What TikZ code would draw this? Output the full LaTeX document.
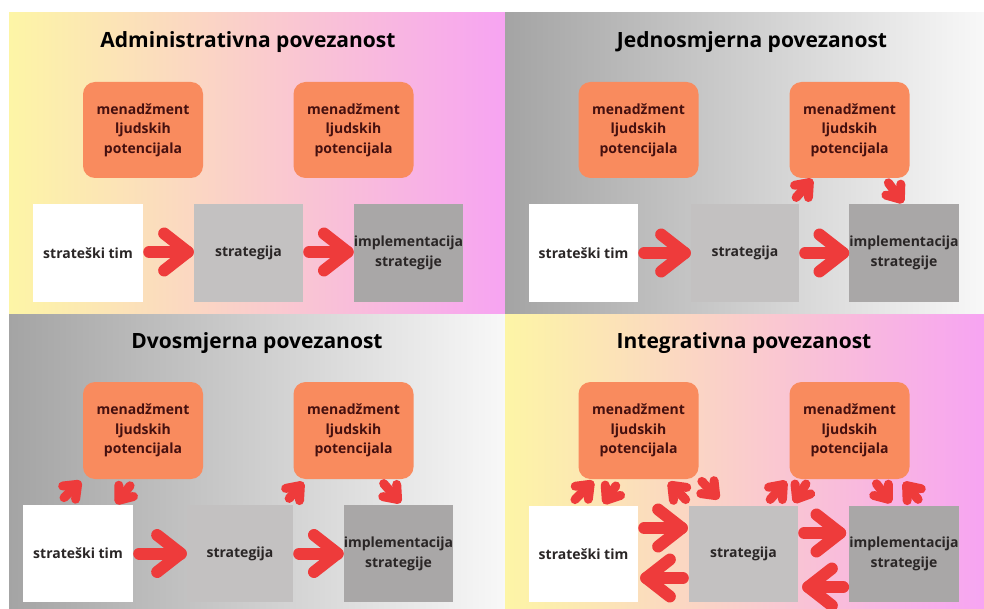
\documentclass[tikz,border=0pt]{standalone}
\usepackage{fontspec}
\setmainfont{Open Sans}
\usetikzlibrary{calc}
\definecolor{rd}{HTML}{EE3B3B}
\definecolor{orng}{HTML}{F98B5E}
\definecolor{maroon}{HTML}{45100F}
\definecolor{dark}{HTML}{2A2626}
\definecolor{stratg}{HTML}{C3C1C1}
\definecolor{implg}{HTML}{A9A7A7}
\definecolor{yel}{HTML}{FDF5A6}
\definecolor{peach}{HTML}{FBD6CB}
\definecolor{pnk}{HTML}{F7A4F2}
\definecolor{gryL}{HTML}{A4A4A4}
\definecolor{gryR}{HTML}{F8F8F8}
\tikzset{
  titletext/.style={font=\fontsize{21}{25}\selectfont\bfseries, text=black, inner sep=0pt},
  hrmbox/.style={fill=orng, rounded corners=12pt, minimum width=120pt, minimum height=96pt, inner sep=0pt, align=center, font=\fontsize{14}{19.5}\selectfont\bfseries, text=maroon},
  sqbox/.style={minimum width=109pt, minimum height=98pt, inner sep=0pt, align=center, font=\fontsize{14}{20}\selectfont\bfseries, text=dark},
  teambox/.style={sqbox, fill=white},
  stratbox/.style={sqbox, fill=stratg},
  implbox/.style={sqbox, fill=implg},
  redline/.style={draw=rd, line cap=round, line join=round}
}
\newcommand\redarr[5]{%
  \path (#1) coordinate (ra) (#2) coordinate (rb);
  \coordinate (rv) at ($(rb)!#4!(ra)$);
  \coordinate (rt) at ($(ra)!#4!(rb)$);
  \draw[redline, line width=#3] (rt) -- (rv);
  \draw[redline, line width=#3] ($(rv)!#5!38:(rt)$) -- (rv) -- ($(rv)!#5!-38:(rt)$);
}
\newcommand\bigarr[2]{\redarr{#1}{#2}{12pt}{6pt}{30pt}}
\newcommand\smallarr[2]{\redarr{#1}{#2}{9pt}{4.5pt}{15pt}}
\newcommand\hrmtext{menadžment\\ljudskih\\potencijala}
\begin{document}
\begin{tikzpicture}[x=1pt,y=-1pt]
\useasboundingbox (0,0) rectangle (984,609);
\fill[white] (0,0) rectangle (984,609);
% panel backgrounds
\shade[left color=yel, middle color=peach, right color=pnk] (9,13) rectangle (505,314);
\shade[left color=gryL, right color=gryR] (505,13) rectangle (984,314);
\shade[left color=gryL, right color=gryR] (9,314) rectangle (505,609);
\shade[left color=yel, middle color=peach, right color=pnk] (505,314) rectangle (984,609);

% ---------- Panel 1 ----------
\node[titletext] (t1) at (248,42) {Administrativna povezanost};
\node[hrmbox] (o11) at (143,130) {\hrmtext};
\node[hrmbox] (o12) at (353.5,130) {\hrmtext};
\node[teambox, minimum width=110pt] (w1) at (88,253) {strateški tim};
\node[stratbox] (s1) at (248.5,253) {strategija};
\node[implbox] (i1) at (408.5,253) {implementacija\\strategije};
\bigarr{$(w1.east)+(0,-1)$}{$(s1.west)+(0,-1)$}
\bigarr{$(s1.east)+(0,-1)$}{$(i1.west)+(0,-1)$}

% ---------- Panel 2 ----------
\node[titletext] (t2) at (752,42) {Jednosmjerna povezanost};
\node[hrmbox] (o21) at (638.5,130) {\hrmtext};
\node[hrmbox] (o22) at (849.5,130) {\hrmtext};
\node[teambox] (w2) at (583.5,253) {strateški tim};
\node[stratbox, minimum width=108pt] (s2) at (745,253) {strategija};
\node[implbox, minimum width=108pt] (i2) at (904,253) {implementacija\\strategije};
\bigarr{w2.east}{s2.west}
\bigarr{s2.east}{i2.west}
\smallarr{$(s2.north east)+(-6,-3)$}{$(o22.south west)+(23,1)$}
\smallarr{$(o22.south east)+(-24,1)$}{$(i2.north)+(-1,-1)$}

% ---------- Panel 3 ----------
\node[titletext] (t3) at (257,343) {Dvosmjerna povezanost};
\node[hrmbox, minimum height=97pt] (o31) at (143,430.5) {\hrmtext};
\node[hrmbox, minimum height=97pt] (o32) at (353.5,430.5) {\hrmtext};
\node[teambox, minimum width=110pt, minimum height=97pt] (w3) at (78,553.5) {strateški tim};
\node[stratbox, minimum width=106pt, minimum height=97pt] (s3) at (240,553.5) {strategija};
\node[implbox, minimum height=97pt] (i3) at (398.5,553.5) {implementacija\\strategije};
\bigarr{w3.east}{s3.west}
\bigarr{s3.east}{i3.west}
\smallarr{$(w3.north west)+(38,-4)$}{$(o31.south west)+(-2,2)$}
\smallarr{$(o31.south west)+(50,3)$}{$(w3.north east)+(-17,-1)$}
\smallarr{$(s3.north east)+(-7,-3)$}{$(o32.south west)+(10,3)$}
\smallarr{$(o32.south east)+(-33,1)$}{$(i3.north)+(2,-2)$}

% ---------- Panel 4 ----------
\node[titletext] (t4) at (744,343) {Integrativna povezanost};
\node[hrmbox, minimum height=97pt] (o41) at (638.5,430.5) {\hrmtext};
\node[hrmbox, minimum height=97pt] (o42) at (849.5,430.5) {\hrmtext};
\node[teambox, minimum height=96pt] (w4) at (583.5,554) {strateški tim};
\node[stratbox, minimum height=96pt] (s4) at (743.5,554) {strategija};
\node[implbox, minimum width=108pt, minimum height=96pt] (i4) at (904,554) {implementacija\\strategije};
\bigarr{$(w4.east)+(0,-26)$}{$(s4.west)+(-1,-26)$}
\bigarr{$(s4.west)+(0,24)$}{$(w4.east)+(2,24)$}
\bigarr{$(s4.east)+(0,-21)$}{$(i4.west)+(-3,-21)$}
\bigarr{$(i4.west)+(0,33)$}{$(s4.east)+(4,33)$}
\smallarr{$(w4.north west)+(43,-3)$}{$(o41.south west)+(15,2)$}
\smallarr{$(o41.south west)+(40,3)$}{$(w4.north west)+(75,-2)$}
\smallarr{$(s4.north west)+(0,-3)$}{$(o41.south east)+(-30,3)$}
\smallarr{$(o41.south east)+(0,-1)$}{$(s4.north west)+(30,-7)$}
\smallarr{$(s4.north east)+(-31,-3)$}{$(o42.south west)+(-3,2)$}
\smallarr{$(o42.south west)+(19,1)$}{$(s4.north east)+(-4,-3)$}
\smallarr{$(o42.south east)+(-36,1)$}{$(i4.north)+(-13,-3)$}
\smallarr{$(i4.north)+(17,-3)$}{$(o42.south east)+(-6,3)$}
\end{tikzpicture}
\end{document}
